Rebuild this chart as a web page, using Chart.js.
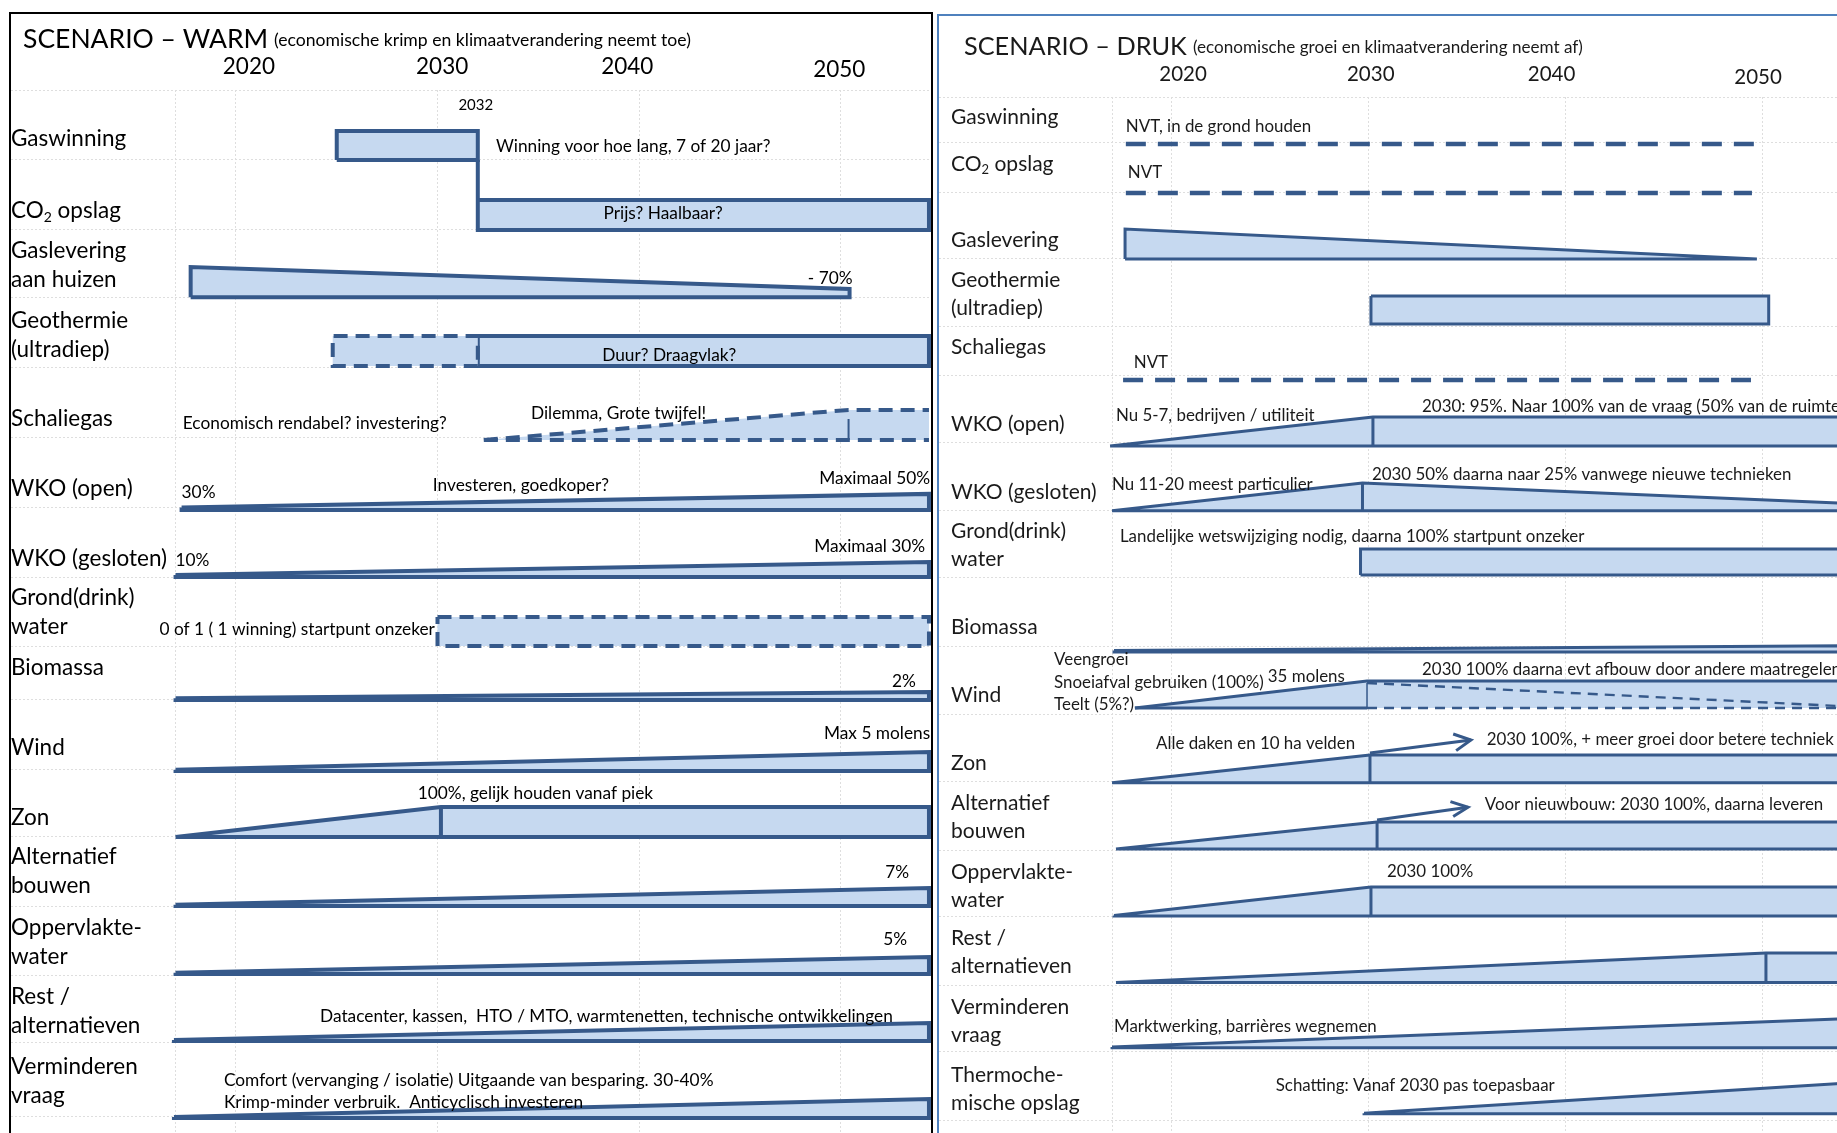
<!DOCTYPE html>
<html>
<head>
<meta charset="utf-8">
<script src="https://cdn.jsdelivr.net/npm/chart.js@4.4.0/dist/chart.umd.min.js"></script>
<style>
  html, body { margin: 0; padding: 0; background: #fff; overflow: hidden; width: 1837px; height: 1133px; }
  .panel { position: absolute; }
  #warm { left: 9px; top: 12px; width: 920px; height: 1125px; border: 2px solid #000; }
  #druk { left: 937px; top: 14px; width: 905px; height: 1125px; border: 2px solid #4f81bd; }
  canvas { display: block; }
</style>
</head>
<body>
<div class="panel" id="warm"><canvas id="cWarm" width="920" height="1125"></canvas></div>
<div class="panel" id="druk"><canvas id="cDruk" width="905" height="1125"></canvas></div>
<script>
// ---- gedeelde as-waarden ----
const years = [2020, 2030, 2040, 2050];
const gridYears = [2017, 2020, 2030, 2040, 2050];
// waar de jaartallen in de kop staan (in jaar-eenheden)
const warmYearLabelAt = [2020.64, 2030.23, 2039.42, 2049.94];
const drukYearLabelAt = [2020.6, 2030.12, 2039.29, 2049.76];

// ================= SCENARIO - WARM =================
const warmRowNames = [['Gaswinning'], ['CO₂ opslag'], ['Gaslevering', 'aan huizen'], ['Geothermie', '(ultradiep)'],
  ['Schaliegas'], ['WKO (open)'], ['WKO (gesloten)'], ['Grond(drink)', 'water'], ['Biomassa'], ['Wind'], ['Zon'],
  ['Alternatief', 'bouwen'], ['Oppervlakte-', 'water'], ['Rest /', 'alternatieven'], ['Verminderen', 'vraag']];
const warmRowLabelAt = [0.7, 1.73, 2.29, 3.29, 4.69, 5.7, 6.69, 7.26, 8.26, 9.39, 10.39, 10.96, 11.97, 12.96, 13.96];
const warmRowEdges = [0, 1, 1.986, 2.971, 3.971, 4.971, 5.971, 6.971, 7.957, 8.714, 9.714, 10.671, 11.671, 12.657, 13.614, 14.671];

const warmEnd = 2054.39;
const warmGaswinning = [[2025, 1.0], [2025, 0.586], [2032, 0.586], [2032, 1.0]];
const warmCO2 = [[2032, 1.0], [2032, 2.0], [warmEnd, 2.0], [warmEnd, 1.571], [2032, 1.571]];
const warmGaslevering = [[2017.75, 2.96], [2017.75, 2.529], [2050.45, 2.843], [2050.45, 2.96]];
const warmGeoDash = [[2032, 3.943], [2024.8, 3.943], [2024.8, 3.514], [2032, 3.514]];
const warmGeoSolid = [[2032, 3.514], [warmEnd, 3.514], [warmEnd, 3.943], [2032, 3.943]];
const warmSchalieArea = [[2032.3, 5.0], [2050.4, 4.57], [warmEnd, 4.57], [warmEnd, 5.0]];
const warmSchalieTop = [[2032.3, 5.0], [2050.4, 4.57], [warmEnd, 4.57]];
const warmSchalieBottom = [[2032.3, 5.0], [warmEnd, 5.0]];
const warmSchalieTick = [[2050.4, 4.7], [2050.4, 5.0]];
const warmWkoOpen = [[2017.3, 5.965], [warmEnd, 5.77], [warmEnd, 6.0], [2017.3, 6.0]];
const warmWkoGesl = [[2017, 6.93], [warmEnd, 6.743], [warmEnd, 6.957], [2017, 6.957]];
const warmGrond = [[2030, 7.529], [warmEnd, 7.529], [warmEnd, 7.943], [2030, 7.943]];
const warmBiomassa = [[2017, 8.69], [warmEnd, 8.6], [warmEnd, 8.714], [2017, 8.714]];
const warmWind = [[2017, 9.71], [warmEnd, 9.457], [warmEnd, 9.729], [2017, 9.729]];
const warmZon = [[2017, 10.671], [2030.17, 10.243], [warmEnd, 10.243], [warmEnd, 10.671]];
const warmZonTick = [[2030.17, 10.243], [2030.17, 10.671]];
const warmAlternatief = [[2017, 11.64], [warmEnd, 11.4], [warmEnd, 11.657], [2017, 11.657]];
const warmOpp = [[2017, 12.61], [warmEnd, 12.386], [warmEnd, 12.629], [2017, 12.629]];
const warmRest = [[2016.92, 13.57], [warmEnd, 13.329], [warmEnd, 13.586], [2016.92, 13.586]];
const warmVerm = [[2016.92, 14.67], [warmEnd, 14.414], [warmEnd, 14.686], [2016.92, 14.686]];

const warmParts = [
  [warmGaswinning, 'box'], [warmCO2, 'open'], [warmGaslevering, 'box'], [warmGeoDash, 'dashbox'],
  [warmGeoSolid, 'box'], [warmSchalieArea, 'area'], [warmSchalieTop, 'dash'], [warmSchalieBottom, 'dash'],
  [warmSchalieTick, 'thin'], [warmWkoOpen, 'box'], [warmWkoGesl, 'box'], [warmGrond, 'dashbox'],
  [warmBiomassa, 'box'], [warmWind, 'box'], [warmZon, 'box'], [warmZonTick, 'line'],
  [warmAlternatief, 'box'], [warmOpp, 'box'], [warmRest, 'box'], [warmVerm, 'box']
];

const warmNotes = [
  ['2032', 2031.9, 0.214, 'center', 15],
  ['Winning voor hoe lang, 7 of 20 jaar?', 2032.9, 0.8, 'left'],
  ['Prijs? Haalbaar?', 2041.2, 1.757, 'center'],
  ['- 70%', 2050.6, 2.686, 'right'],
  ['Duur? Draagvlak?', 2041.5, 3.786, 'center'],
  ['Economisch rendabel? investering?', 2017.36, 4.757, 'left'],
  ['Dilemma, Grote twijfel!', 2034.64, 4.614, 'left'],
  ['30%', 2017.3, 5.743, 'left'],
  ['Investeren, goedkoper?', 2029.77, 5.643, 'left'],
  ['Maximaal 50%', 2054.45, 5.543, 'right'],
  ['10%', 2017, 6.714, 'left'],
  ['Maximaal 30%', 2054.2, 6.514, 'right'],
  ['0 of 1 ( 1 winning) startpunt onzeker', 2029.87, 7.7, 'right'],
  ['2%', 2053.74, 8.443, 'right'],
  ['Max 5 molens', 2054.45, 9.186, 'right'],
  ['100%, gelijk houden vanaf piek', 2029.02, 10.043, 'left'],
  ['7%', 2053.4, 11.171, 'right'],
  ['5%', 2053.3, 12.129, 'right'],
  ['Datacenter, kassen,  HTO / MTO, warmtenetten, technische ontwikkelingen', 2024.17, 13.229, 'left'],
  ['Comfort (vervanging / isolatie) Uitgaande van besparing. 30-40%', 2019.4, 14.143, 'left'],
  ['Krimp-minder verbruik.  Anticyclisch investeren', 2019.4, 14.457, 'left']
];

// ================= SCENARIO - DRUK =================
const drukRowNames = [['Gaswinning'], ['CO₂ opslag'], ['Gaslevering'], ['Geothermie', '(ultradiep)'], ['Schaliegas'],
  ['WKO (open)'], ['WKO (gesloten)'], ['Grond(drink)', 'water'], ['Biomassa'], ['Wind'], ['Zon'],
  ['Alternatief', 'bouwen'], ['Oppervlakte-', 'water'], ['Rest /', 'alternatieven'], ['Verminderen', 'vraag'],
  ['Thermoche-', 'mische opslag']];
const drukRowLabelAt = [0.296, 0.993, 2.119, 2.711, 3.704, 4.844, 5.852, 6.43, 7.852, 8.859, 9.867, 10.459, 11.481, 12.459, 13.481, 14.489];
const drukRowEdges = [0, 0.681, 1.422, 2.4, 3.407, 4.133, 5.126, 6.133, 7.126, 8.148, 9.141, 10.148, 11.156, 12.148, 13.156, 14.148, 15.156];

const drukEnd = 2054.12;
const drukGasDash = [[2017.7, 0.696], [2049.7, 0.696]];
const drukCO2Dash = [[2017.7, 1.422], [2049.45, 1.422]];
const drukGaslevering = [[2017.66, 2.4], [2017.66, 1.956], [2049.7, 2.4]];
const drukGeo = [[2030.13, 2.948], [2050.3, 2.948], [2050.3, 3.363], [2030.13, 3.363]];
const drukSchalieDash = [[2017.56, 4.193], [2049.4, 4.193]];
const drukWkoOpen = [[2016.9, 5.17], [2030.23, 4.741], [drukEnd, 4.741], [drukEnd, 5.17]];
const drukWkoOpenTick = [[2030.23, 4.741], [2030.23, 5.17]];
const drukWkoGesl = [[2017, 6.13], [2029.7, 5.719], [drukEnd, 6.02], [drukEnd, 6.13]];
const drukWkoGeslTick = [[2029.7, 5.719], [2029.7, 6.13]];
const drukGrond = [[2029.6, 7.081], [2029.6, 6.696], [drukEnd, 6.696], [drukEnd, 7.081]];
const drukBiomassa = [[2017.1, 8.2], [drukEnd, 8.13], [drukEnd, 8.222], [2017.1, 8.222]];
const drukWindArea = [[2018.16, 9.052], [2029.93, 8.652], [drukEnd, 8.652], [drukEnd, 9.052]];
const drukWindTop = [[2018.16, 9.052], [2029.93, 8.652], [drukEnd, 8.652]];
const drukWindBase = [[2018.16, 9.052], [2029.93, 9.052]];
const drukWindDashBase = [[2029.93, 9.052], [drukEnd, 9.052]];
const drukWindDashSlope = [[2029.93, 8.681], [drukEnd, 9.027]];
const drukWindTick = [[2029.93, 8.681], [2029.93, 9.052]];
const drukZon = [[2017, 10.16], [2030.08, 9.748], [drukEnd, 9.748], [drukEnd, 10.16]];
const drukZonTick = [[2030.08, 9.748], [2030.08, 10.16]];
const drukZonArrow = [[2030.08, 9.72], [2035.2, 9.526]];
const drukZonHead = [[2034.3, 9.437], [2035.2, 9.526], [2034.45, 9.684]];
const drukAlt = [[2017.2, 11.141], [2030.44, 10.741], [drukEnd, 10.741], [drukEnd, 11.141]];
const drukAltTick = [[2030.44, 10.741], [2030.44, 11.141]];
const drukAltArrow = [[2030.44, 10.71], [2035.05, 10.522]];
const drukAltHead = [[2034.16, 10.44], [2035.05, 10.522], [2034.3, 10.66]];
const drukOpp = [[2017.1, 12.126], [2030.13, 11.704], [drukEnd, 11.704], [drukEnd, 12.133], [2017.1, 12.133]];
const drukOppTick = [[2030.13, 11.704], [2030.13, 12.133]];
const drukRest = [[2017.2, 13.12], [2050.16, 12.681], [drukEnd, 12.681], [drukEnd, 13.12]];
const drukRestTick = [[2050.16, 12.681], [2050.16, 13.12]];
const drukVerm = [[2017, 14.075], [drukEnd, 13.654], [drukEnd, 14.085], [2017, 14.085]];
const drukThermo = [[2029.78, 15.055], [drukEnd, 14.612], [drukEnd, 15.065], [2029.78, 15.065]];

const drukParts = [
  [drukGasDash, 'dash'], [drukCO2Dash, 'dash'], [drukGaslevering, 'box'], [drukGeo, 'box'],
  [drukSchalieDash, 'dash'], [drukWkoOpen, 'box'], [drukWkoOpenTick, 'line'], [drukWkoGesl, 'box'],
  [drukWkoGeslTick, 'line'], [drukGrond, 'box'], [drukBiomassa, 'box'], [drukWindArea, 'area'],
  [drukWindTop, 'line'], [drukWindBase, 'line'], [drukWindDashBase, 'dashthin'], [drukWindDashSlope, 'dashthin'],
  [drukWindTick, 'thin'], [drukZon, 'box'], [drukZonTick, 'line'], [drukZonArrow, 'line'], [drukZonHead, 'line'],
  [drukAlt, 'box'], [drukAltTick, 'line'], [drukAltArrow, 'line'], [drukAltHead, 'line'],
  [drukOpp, 'box'], [drukOppTick, 'line'], [drukRest, 'box'], [drukRestTick, 'line'],
  [drukVerm, 'box'], [drukThermo, 'box']
];

const drukNotes = [
  ['NVT, in de grond houden', 2017.7, 0.444, 'left'],
  ['NVT', 2017.8, 1.126, 'left'],
  ['NVT', 2018.1, 3.941, 'left'],
  ['Nu 5-7, bedrijven / utiliteit', 2017.2, 4.726, 'left'],
  ['2030: 95%. Naar 100% van de vraag (50% van de ruimte)', 2032.72, 4.593, 'left'],
  ['Nu 11-20 meest particulier', 2017.0, 5.748, 'left'],
  ['2030 50% daarna naar 25% vanwege nieuwe technieken', 2030.18, 5.6, 'left'],
  ['Landelijke wetswijziging nodig, daarna 100% startpunt onzeker', 2017.4, 6.519, 'left'],
  ['Veengroei', 2014.06, 8.341, 'left'],
  ['Snoeiafval gebruiken (100%)', 2014.06, 8.681, 'left'],
  ['Teelt (5%?)', 2014.06, 9.007, 'left'],
  ['35 molens', 2024.9, 8.593, 'left'],
  ['2030 100% daarna evt afbouw door andere maatregelen', 2032.72, 8.489, 'left'],
  ['Alle daken en 10 ha velden', 2019.23, 9.585, 'left'],
  ['2030 100%, + meer groei door betere techniek', 2036.0, 9.526, 'left'],
  ['Voor nieuwbouw: 2030 100%, daarna leveren', 2035.9, 10.489, 'left'],
  ['2030 100%', 2030.94, 11.481, 'left'],
  ['Marktwerking, barrières wegnemen', 2017.1, 13.778, 'left'],
  ['Schatting: Vanaf 2030 pas toepasbaar', 2025.3, 14.652, 'left']
];

// ---- opmaak ----
const LINE = '#36598a';
const FILL = '#c6d9f0';
const FONT = 'Lato, "Open Sans", sans-serif';

function makeSets(parts, w, dash, dashW) {
  return parts.map(([pts, kind]) => {
    const closed = (kind === 'box' || kind === 'dashbox') ? pts.concat([pts[0]]) : pts;
    const ds = {
      data: closed.map(p => ({ x: p[0], y: p[1] })),
      borderColor: LINE,
      backgroundColor: FILL,
      borderWidth: w,
      fill: false,
      pointRadius: 0,
      tension: 0,
      borderJoinStyle: 'miter',
      borderCapStyle: 'butt',
      order: 0   // losse lijnen bovenop
    };
    if (kind === 'box' || kind === 'open' || kind === 'dashbox') { ds.fill = 'shape'; ds.order = 1; }
    if (kind === 'dashbox') ds.borderDash = dash;
    if (kind === 'dash') { ds.borderDash = dash; ds.borderWidth = dashW; }
    if (kind === 'dashthin') { ds.borderDash = [10, 7]; ds.borderWidth = w * 0.8; }
    if (kind === 'thin') ds.borderWidth = w * 0.5;
    if (kind === 'area') { ds.fill = 'shape'; ds.borderWidth = 0; ds.order = 2; }
    return ds;
  });
}

function drawText(ctx, text, x, y, size, align) {
  ctx.textAlign = align || 'left';
  if (text.indexOf('₂') < 0) { ctx.fillText(text, x, y); return; }
  const [a, b] = text.split('₂');
  ctx.textAlign = 'left';
  ctx.font = size + 'px ' + FONT;
  ctx.fillText(a, x, y);
  const wa = ctx.measureText(a).width;
  ctx.font = Math.round(size * 0.62) + 'px ' + FONT;
  ctx.fillText('2', x + wa, y + size * 0.28);
  const w2 = ctx.measureText('2').width;
  ctx.font = size + 'px ' + FONT;
  ctx.fillText(b, x + wa + w2, y);
}

function textPlugin(p) {
  return {
    id: 'panelTexts',
    afterDraw(chart) {
      const { ctx } = chart;
      const xs = chart.scales.x, ys = chart.scales.y;
      ctx.save();
      ctx.fillStyle = p.color;
      ctx.textBaseline = 'alphabetic';
      // titel
      ctx.font = p.titleSize + 'px ' + FONT;
      ctx.textAlign = 'left';
      ctx.fillText(p.title, p.titleX, p.titleY);
      ctx.font = p.subSize + 'px ' + FONT;
      ctx.fillText(p.subtitle, p.subX, p.subY);
      // jaartallen
      ctx.textBaseline = 'middle';
      ctx.font = p.yearSize + 'px ' + FONT;
      ctx.textAlign = 'center';
      years.forEach((yr, i) => ctx.fillText(String(yr), xs.getPixelForValue(p.yearAt[i]), p.yearY + (i === 3 ? 3 : 0)));
      // rij-labels
      p.rows.forEach((lines, i) => {
        const y0 = ys.getPixelForValue(p.rowAt[i]);
        lines.forEach((ln, j) => {
          ctx.font = p.labelSize + 'px ' + FONT;
          drawText(ctx, ln, p.labelX, y0 + j * p.lineGap, p.labelSize, 'left');
        });
      });
      // toelichtingen
      p.notes.forEach(n => {
        const size = n[4] || p.noteSize;
        ctx.font = size + 'px ' + FONT;
        drawText(ctx, n[0], xs.getPixelForValue(n[1]), ys.getPixelForValue(n[2]), size, n[3]);
      });
      ctx.restore();
    }
  };
}

function buildPanel(id, p) {
  return new Chart(document.getElementById(id), {
    type: 'line',
    data: { datasets: makeSets(p.parts, p.lineWidth, p.dash, p.dashWidth) },
    options: {
      responsive: false,
      devicePixelRatio: 1,
      animation: false,
      layout: { padding: { top: p.padTop, left: 0, right: 0, bottom: 0 } },
      plugins: { legend: { display: false }, tooltip: { enabled: false } },
      scales: {
        x: {
          type: 'linear', min: p.xMin, max: p.xMax,
          afterBuildTicks: ax => { ax.ticks = gridYears.map(v => ({ value: v })); },
          ticks: { display: false },
          grid: { color: '#dedede', lineWidth: 1, drawTicks: false },
          border: { display: false, dash: [2, 2] }
        },
        y: {
          type: 'linear', reverse: true, min: 0, max: p.yMax,
          afterBuildTicks: ax => { ax.ticks = p.edges.map(v => ({ value: v })); },
          ticks: { display: false },
          grid: { color: '#dedede', lineWidth: 1, drawTicks: false },
          border: { display: false, dash: [2, 2] }
        }
      }
    },
    plugins: [textPlugin(p)]
  });
}

buildPanel('cWarm', {
  parts: warmParts, lineWidth: 4, dash: [14, 8], dashWidth: 4, edges: warmRowEdges,
  xMin: 2008.834, xMax: 2054.491, yMax: 14.986, padTop: 76,
  color: '#000',
  title: 'SCENARIO – WARM', titleX: 12, titleY: 34, titleSize: 26.5,
  subtitle: '(economische krimp en klimaatverandering neemt toe)', subX: 263, subY: 32, subSize: 17.6,
  yearAt: warmYearLabelAt, yearY: 53, yearSize: 22.5,
  rows: warmRowNames, rowAt: warmRowLabelAt, labelX: 0, labelSize: 22.5, lineGap: 29,
  notes: warmNotes, noteSize: 17.3
});

buildPanel('cDruk', {
  parts: drukParts, lineWidth: 3, dash: [20, 12], dashWidth: 4.5, edges: drukRowEdges,
  xMin: 2008.225, xMax: 2054.118, yMax: 15.467, padTop: 81,
  color: '#1a1a1a',
  title: 'SCENARIO – DRUK', titleX: 25, titleY: 39, titleSize: 25.3,
  subtitle: '(economische groei en klimaatverandering neemt af)', subX: 254, subY: 37, subSize: 17.1,
  yearAt: drukYearLabelAt, yearY: 58, yearSize: 20.5,
  rows: drukRowNames, rowAt: drukRowLabelAt, labelX: 12, labelSize: 21, lineGap: 28,
  notes: drukNotes, noteSize: 16.9
});
</script>
</body>
</html>
